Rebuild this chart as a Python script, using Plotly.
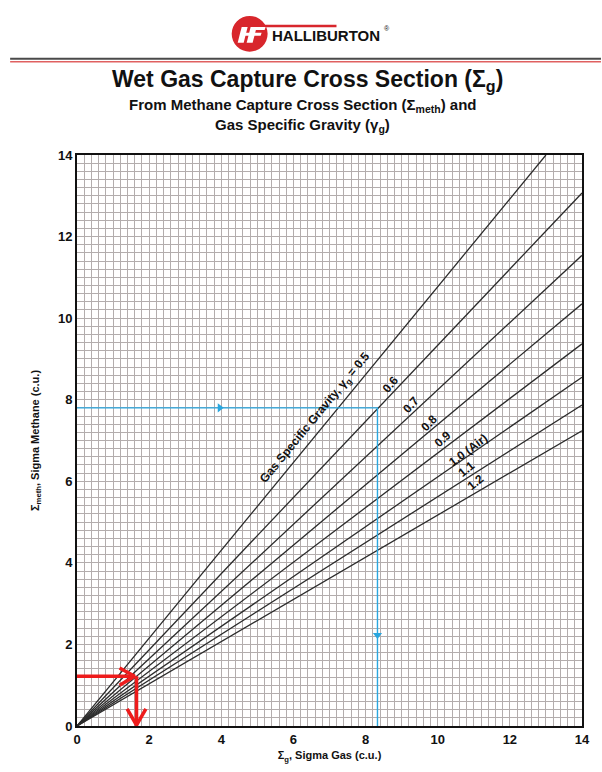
import plotly.graph_objects as go

# ---------------- data ----------------
gravity_labels = ["0.5", "0.6", "0.7", "0.8", "0.9", "1.0 (Air)", "1.1", "1.2"]
# each curve runs from the origin to the point where it leaves the grid
sigma_gas_start = [0, 0, 0, 0, 0, 0, 0, 0]
sigma_meth_start = [0, 0, 0, 0, 0, 0, 0, 0]
sigma_gas_end = [13.0, 14.0, 14.0, 14.0, 14.0, 14.0, 14.0, 14.0]
sigma_meth_end = [14.0, 13.07, 11.54, 10.35, 9.37, 8.55, 7.87, 7.24]

# worked example (blue) and quick example (red)
blue_sigma_meth = 7.8
blue_sigma_gas = 8.33
red_sigma_meth = 1.22
red_sigma_gas = 1.65

x_ticks = [0, 2, 4, 6, 8, 10, 12, 14]
y_ticks = [0, 2, 4, 6, 8, 10, 12, 14]

# ---------------- layout geometry (pixels) ----------------
W, H = 602, 772
L, R, T, B = 77, 19, 155, 42
PW, PH = W - L - R, H - T - B


def px(x):
    return (x - L) / PW


def py(y):
    return (T + PH - y) / PH


FONT = "Liberation Sans, Arial, sans-serif"
LINE = "#2b2b2b"
GRID = "#b3adad"
BLUE = "#2aa7df"
RED = "#ee1c1c"

fig = go.Figure()

# curves
for i, lab in enumerate(gravity_labels):
    fig.add_trace(go.Scatter(
        x=[sigma_gas_start[i], sigma_gas_end[i]],
        y=[sigma_meth_start[i], sigma_meth_end[i]],
        mode="lines", line=dict(color=LINE, width=1.3),
        name=lab, showlegend=False, hoverinfo="skip"))

# blue worked example
fig.add_trace(go.Scatter(
    x=[0, blue_sigma_gas, blue_sigma_gas],
    y=[blue_sigma_meth, blue_sigma_meth, 0],
    mode="lines", line=dict(color=BLUE, width=1.4),
    showlegend=False, hoverinfo="skip"))
fig.add_trace(go.Scatter(
    x=[blue_sigma_gas * 0.475], y=[blue_sigma_meth],
    mode="markers", marker=dict(symbol="triangle-right", size=8, color=BLUE),
    showlegend=False, hoverinfo="skip"))
fig.add_trace(go.Scatter(
    x=[blue_sigma_gas], y=[blue_sigma_meth * 0.286],
    mode="markers", marker=dict(symbol="triangle-down", size=8, color=BLUE),
    showlegend=False, hoverinfo="skip"))

# red quick example
red_tip_x = red_sigma_gas - 0.05
fig.add_trace(go.Scatter(
    x=[0, red_tip_x, None, red_tip_x - 0.42, red_tip_x, red_tip_x - 0.42],
    y=[red_sigma_meth, red_sigma_meth, None,
       red_sigma_meth + 0.2, red_sigma_meth, red_sigma_meth - 0.22],
    mode="lines", line=dict(color=RED, width=3.5),
    showlegend=False, hoverinfo="skip"))
fig.add_trace(go.Scatter(
    x=[red_sigma_gas, red_sigma_gas, None,
       red_sigma_gas - 0.26, red_sigma_gas, red_sigma_gas + 0.26],
    y=[red_sigma_meth, 0.02, None, 0.42, 0.02, 0.42],
    mode="lines", line=dict(color=RED, width=3.5),
    showlegend=False, hoverinfo="skip"))

# curve labels
label_pos = [(6.61, 7.55), (8.70, 8.38), (9.26, 7.86), (9.77, 7.42),
             (10.14, 7.04), (10.85, 6.76), (10.80, 6.30), (11.06, 5.98)]
label_ang = [-50.5, -50, -48, -45, -42, -37, -40, -39]
label_txt = ["Gas Specific Gravity, γ<sub>g</sub> = " + gravity_labels[0]] + gravity_labels[1:]
for (x, y), a, t in zip(label_pos, label_ang, label_txt):
    fig.add_annotation(x=x, y=y, text=t, showarrow=False, textangle=a,
                       xanchor="center", yanchor="middle",
                       font=dict(family=FONT, size=12, color="#111", weight="bold"))

# ---------------- header ----------------
shapes = []
# divider lines
shapes.append(dict(type="line", xref="paper", yref="paper",
                   x0=px(10), x1=px(602), y0=py(58), y1=py(58),
                   line=dict(color="#4a4a4a", width=2)))
shapes.append(dict(type="line", xref="paper", yref="paper",
                   x0=px(10), x1=px(602), y0=py(61), y1=py(61),
                   line=dict(color="#e06060", width=1.5)))
# logo circle
shapes.append(dict(type="circle", xref="paper", yref="paper",
                   x0=px(232), x1=px(268), y0=py(15), y1=py(51),
                   fillcolor="#d8262c", line=dict(width=0)))
# logo bar
shapes.append(dict(type="line", xref="paper", yref="paper",
                   x0=px(262), x1=px(337), y0=py(25), y1=py(25),
                   line=dict(color="#d8262c", width=2.5)))


def para(pts):
    s = "M " + " L ".join(f"{px(a)},{py(b)}" for a, b in pts) + " Z"
    return dict(type="path", xref="paper", yref="paper", path=s,
                fillcolor="white", line=dict(width=0))


shapes.append(para([(242, 26), (248, 26), (244, 42), (238, 42)]))
shapes.append(para([(251, 26), (257, 26), (253, 42), (247, 42)]))
shapes.append(para([(243, 32), (262, 32), (261, 35), (242, 35)]))
shapes.append(para([(256, 26), (266, 26), (265, 29), (255, 29)]))


def header_text(x, y, text, size, bold=True):
    fig.add_annotation(xref="paper", yref="paper", x=px(x), y=py(y),
                       text=text, showarrow=False,
                       xanchor="center", yanchor="middle",
                       font=dict(family=FONT, size=size, color="#111",
                                 weight="bold" if bold else "normal"))


header_text(326, 35, "HALLIBURTON", 15)
header_text(388, 28, "®", 7, bold=False)

# titles
header_text(308, 80, "Wet Gas Capture Cross Section (Σ<sub>g</sub>)", 23)
header_text(303, 105, "From Methane Capture Cross Section (Σ<sub>meth</sub>) and", 15)
header_text(303, 125, "Gas Specific Gravity (γ<sub>g</sub>)", 15)

axis_common = dict(
    range=[0, 14], showline=True, linecolor="#111", linewidth=2, mirror=True,
    showgrid=True, gridcolor=GRID, gridwidth=1, zeroline=False,
    ticks="", tickfont=dict(family=FONT, size=13, color="#111", weight="bold"),
    minor=dict(dtick=0.2, showgrid=True, gridcolor=GRID, gridwidth=1),
)

fig.update_layout(
    width=W, height=H,
    margin=dict(l=L, r=R, t=T, b=B),
    paper_bgcolor="white", plot_bgcolor="white",
    shapes=shapes,
    xaxis=dict(**axis_common, tickvals=x_ticks,
               title=dict(text="Σ<sub>g</sub>, Sigma Gas (c.u.)", standoff=6,
                          font=dict(family=FONT, size=11, color="#111", weight="bold"))),
    yaxis=dict(**axis_common, tickvals=y_ticks,
               title=dict(text="Σ<sub>meth</sub>, Sigma Methane (c.u.)", standoff=16,
                          font=dict(family=FONT, size=11, color="#111", weight="bold"))),
)

fig.write_html("out.html", config={"displayModeBar": False},
               post_script="document.body.style.margin='0';document.body.style.overflow='hidden';")
